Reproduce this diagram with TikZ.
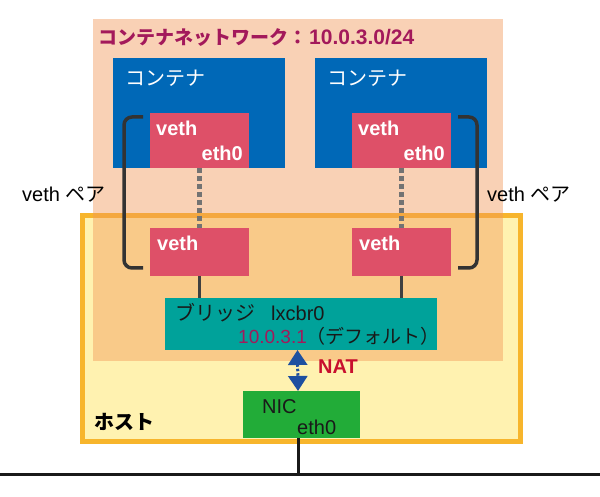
\documentclass[tikz,border=0pt]{standalone}
\usepackage{fontspec}
\setmainfont{Liberation Sans}
\newfontfamily\jp{Noto Sans CJK JP}
\usetikzlibrary{arrows.meta, positioning, calc}
\definecolor{redpeach}{RGB}{242,154,90}
\definecolor{hostyellow}{RGB}{255,242,176}
\definecolor{hostorange}{RGB}{247,181,44}
\definecolor{contblue}{RGB}{0,104,183}
\definecolor{vethred}{RGB}{222,80,104}
\definecolor{bridgeteal}{RGB}{0,162,154}
\definecolor{nicgreen}{RGB}{34,172,56}
\definecolor{ipmagenta}{RGB}{163,25,91}
\definecolor{natred}{RGB}{200,16,46}
\definecolor{natblue}{RGB}{30,80,160}

\begin{document}
\begin{tikzpicture}[x=1pt, y=-1pt,
        caja/.style={
            rectangle,
            inner sep=0pt,
            outer sep=0pt,
            anchor=north west
        },
        vethbox/.style={caja, fill=vethred, minimum width=99pt},
        texto/.style={
            anchor=west,
            inner sep=0pt,
            font=\fontsize{20}{24}\selectfont
        },
        blanco/.style={texto, text=white, font=\fontsize{20}{24}\selectfont\bfseries},
        par/.style={draw=black!80, line width=3.5pt, rounded corners=8pt},
        enlace/.style={draw=black!75, line width=3pt}
    ]
    \useasboundingbox (0,0) rectangle (600,497);

    % host and container network
    \node[caja, draw=hostorange, fill=hostyellow, line width=5pt,
        minimum width=438pt, minimum height=226pt] (host) at (82.5,215.5) {};
    \node[caja, fill=redpeach, fill opacity=0.45,
        minimum width=410pt, minimum height=342pt] (red) at (93,19) {};
    \node[texto, text=ipmagenta, font=\fontsize{19}{23}\selectfont\bfseries]
        (redtit) at ([shift={(5,19)}]red.north west)
        {\jp コンテナネットワーク：\hspace{2pt}\rmfamily\fontsize{21}{24}\selectfont 10.0.3.0/24};

    % containers
    \node[caja, fill=contblue, minimum width=172pt, minimum height=110pt] (c1) at (113,58) {};
    \node[caja, fill=contblue, minimum width=172pt, minimum height=110pt] (c2) at (315,58) {};
    \node[texto, text=white] (c1t) at ([shift={(12,20)}]c1.north west) {\jp コンテナ};
    \node[texto, text=white] (c2t) at ([shift={(12,20)}]c2.north west) {\jp コンテナ};

    % veth
    \node[vethbox, minimum height=55pt] (v1) at (150,113) {};
    \node[vethbox, minimum height=55pt] (v2) at (352,113) {};
    \node[vethbox, minimum height=48pt] (v1b) at (150,228) {};
    \node[vethbox, minimum height=48pt] (v2b) at (352,228) {};
    \node[blanco] at ([shift={(6,15)}]v1.north west) {veth};
    \node[blanco, anchor=east] at ([shift={(-6,40)}]v1.north east) {eth0};
    \node[blanco] at ([shift={(6,15)}]v2.north west) {veth};
    \node[blanco, anchor=east] at ([shift={(-6,40)}]v2.north east) {eth0};
    \node[blanco] at ([shift={(7,15)}]v1b.north west) {veth};
    \node[blanco] at ([shift={(7,15)}]v2b.north west) {veth};

    \draw[draw=black!55, line width=4.5pt, dash pattern=on 5pt off 3pt] (v1.south) -- (v1b.north);
    \draw[draw=black!55, line width=4.5pt, dash pattern=on 5pt off 3pt] (v2.south) -- (v2b.north);

    % veth pairs
    \draw[par] ([shift={(-7,4)}]v1.north west) -- ++(-19,0) |- ([shift={(-7,-8)}]v1b.south west);
    \draw[par] ([shift={(7,4)}]v2.north east) -- ++(19,0) |- ([shift={(7,-8)}]v2b.south east);
    \node[texto] (par1) at (22,195) {veth {\jp ペア}};
    \node[texto] (par2) at (487,195) {veth {\jp ペア}};

    % bridge
    \node[caja, fill=bridgeteal, minimum width=272pt, minimum height=52pt] (br) at (165,298) {};
    \draw[enlace] (v1b.south) -- (v1b.south |- br.north);
    \draw[enlace] (v2b.south) -- (v2b.south |- br.north);
    \node[texto, text=black!90] at ([shift={(10,15)}]br.north west) {\jp ブリッジ\hspace{0.8em}\rmfamily lxcbr0};
    \node[texto, text=black!90, font=\fontsize{19}{23}\selectfont] at ([shift={(73,38)}]br.north west)
        {\textcolor{ipmagenta}{10.0.3.1}{\jp （デフォルト）}};

    % NIC and NAT
    \node[caja, fill=nicgreen, minimum width=117pt, minimum height=47pt] (nic) at (243,391) {};
    \node[texto, text=black!90] at ([shift={(19,16)}]nic.north west) {NIC};
    \node[texto, text=black!90] at ([shift={(54,36)}]nic.north west) {eth0};
    \draw[natblue, line width=3pt, dash pattern=on 2.5pt off 2pt,
        {Triangle[width=19pt,length=15pt]}-{Triangle[width=19pt,length=15pt]}]
        ([xshift=-3.5pt]br.south) -- ([xshift=-3.5pt]nic.north);
    \node[texto, text=natred, font=\fontsize{20}{24}\selectfont\bfseries] (nat) at (318,367) {NAT};
    \node[texto, font=\fontsize{20}{24}\selectfont\bfseries] (hosttxt) at ([shift={(12,-20)}]host.south west) {\jp ホスト};

    % network
    \coordinate (lanizq) at (0,474);
    \coordinate (lander) at (600,474);
    \draw[black!90, line width=3pt] (lanizq) -- (lander);
    \draw[black!90, line width=3pt] ([xshift=-3.5pt]nic.south) -- ([xshift=-3.5pt]nic.south |- lanizq);
\end{tikzpicture}
\end{document}
